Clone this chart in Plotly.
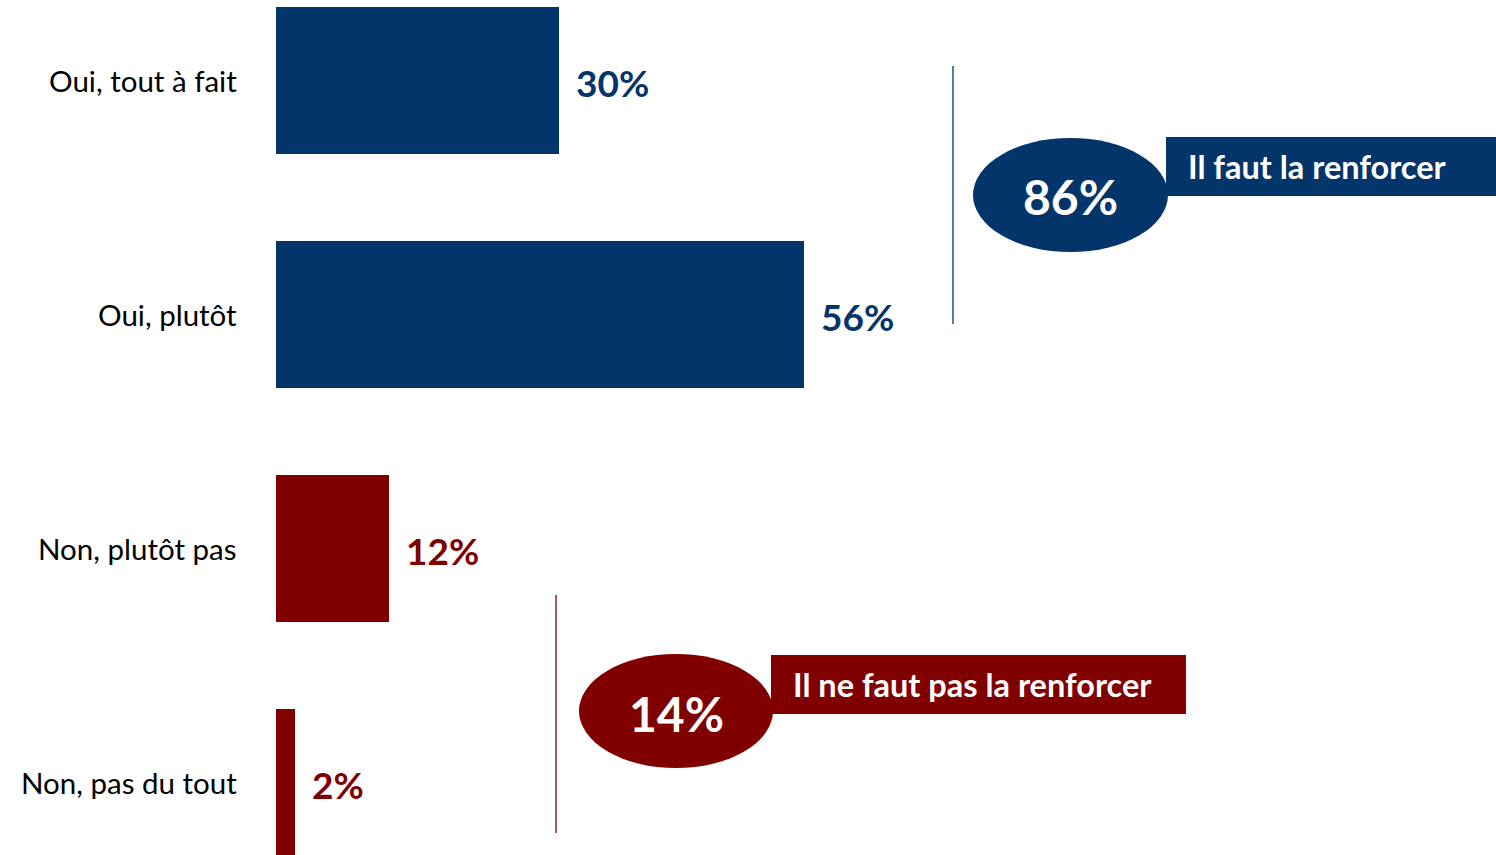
import plotly.graph_objects as go

# Données du sondage
categories = ["Oui, tout à fait", "Oui, plutôt", "Non, plutôt pas", "Non, pas du tout"]
values = [30, 56, 12, 2]
groups = ["oui", "oui", "non", "non"]

colors = {"oui": "#03356A", "non": "#800000"}
group_labels = {"oui": "Il faut la renforcer", "non": "Il ne faut pas la renforcer"}

W, H = 1496, 855
L = 276
PX_PER_PCT = 9.43

def px(x):
    # pixel horizontal -> coordonnée paper
    return (x - L) / (W - L)

def py(y):
    return 1 - y / H

bar_colors = [colors[g] for g in groups]

fig = go.Figure()
fig.add_trace(go.Bar(
    x=values,
    y=categories,
    orientation="h",
    marker=dict(color=bar_colors, line=dict(width=0)),
    width=0.628,
    hoverinfo="skip",
    showlegend=False,
))

annotations = []
# Libellés des catégories
for cat in categories:
    annotations.append(dict(
        x=0, xref="paper", y=cat, yref="y", xshift=-37,
        text=cat, showarrow=False, xanchor="right", yanchor="middle",
        font=dict(family="Lato, sans-serif", size=29.5, color="#000000"),
    ))
# Valeurs au bout des barres
for cat, v, g in zip(categories, values, groups):
    annotations.append(dict(
        x=v, xref="x", y=cat, yref="y", xshift=15,
        text=f"<b>{v}%</b>", showarrow=False, xanchor="left", yanchor="middle",
        yshift=-2,
        font=dict(family="Lato, sans-serif", size=37, color=colors[g]),
    ))

shapes = []
# Encadrés de synthèse
callouts = {
    "oui": dict(line_x=953, line_y=(66, 324), ell=(973, 138, 1168, 252), rect=(1166, 137, 1496, 196), text_x=1186),
    "non": dict(line_x=556, line_y=(595, 833), ell=(579, 654, 773, 768), rect=(771, 655, 1186, 714), text_x=791),
}
for g, c in callouts.items():
    total = sum(v for v, gg in zip(values, groups) if gg == g)
    col = colors[g]
    shapes.append(dict(type="line", xref="paper", yref="paper",
                       x0=px(c["line_x"]), x1=px(c["line_x"]),
                       y0=py(c["line_y"][0]), y1=py(c["line_y"][1]),
                       line=dict(color=col, width=1.3)))
    x0, y0, x1, y1 = c["ell"]
    shapes.append(dict(type="circle", xref="paper", yref="paper",
                       x0=px(x0), x1=px(x1), y0=py(y0), y1=py(y1),
                       fillcolor=col, line=dict(width=0)))
    x0, y0, x1, y1 = c["rect"]
    shapes.append(dict(type="rect", xref="paper", yref="paper",
                       x0=px(x0), x1=px(x1), y0=py(y0), y1=py(y1),
                       fillcolor=col, line=dict(width=0)))
    annotations.append(dict(
        x=px(c["text_x"]), xref="paper", y=py((y0 + y1) / 2), yref="paper",
        text=f"<b>{group_labels[g]}</b>", showarrow=False, xanchor="left", yanchor="middle",
        font=dict(family="Lato, sans-serif", size=32.5, color="white"),
    ))
    ex0, ey0, ex1, ey1 = c["ell"]
    annotations.append(dict(
        x=px((ex0 + ex1) / 2), xref="paper", y=py((ey0 + ey1) / 2 + 2), yref="paper",
        text=f"<b>{total}%</b>", showarrow=False, xanchor="center", yanchor="middle",
        font=dict(family="Lato, sans-serif", size=48, color="white"),
    ))

fig.update_layout(
    width=W, height=H,
    margin=dict(l=L, r=0, t=0, b=0),
    plot_bgcolor="white", paper_bgcolor="white",
    xaxis=dict(range=[0, (W - L) / PX_PER_PCT], visible=False, fixedrange=True),
    yaxis=dict(categoryorder="array", categoryarray=categories,
               range=[3.31, -0.344], visible=False, fixedrange=True),
    shapes=shapes,
    annotations=annotations,
    bargap=0,
)

# pas de marge de page autour de la figure
fig.write_html("out.html", config={"displayModeBar": False},
               post_script="document.body.style.margin='0';")
